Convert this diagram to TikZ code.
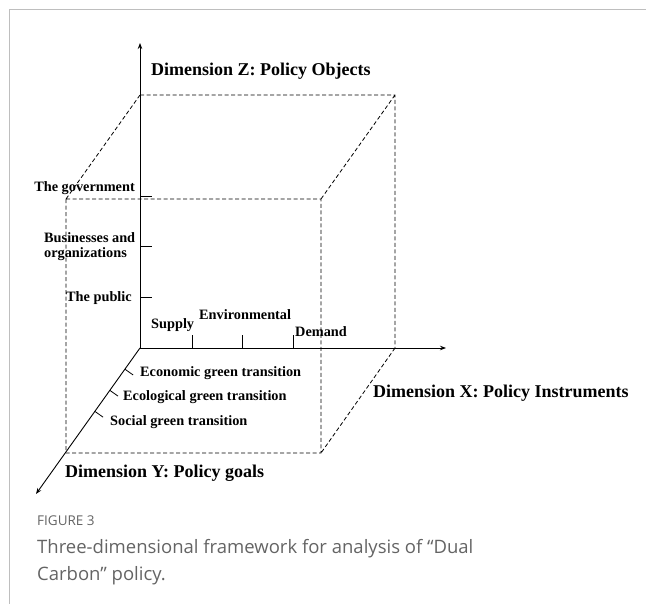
\documentclass[tikz,border=0pt]{standalone}
\usepackage{fontspec}
\setmainfont{Liberation Serif}
\newfontfamily\capfont{Open Sans}
\usetikzlibrary{calc,arrows.meta}
\definecolor{capgray}{RGB}{100,100,100}
\definecolor{framegray}{RGB}{190,190,190}
\tikzset{
  axis/.style={line width=0.9pt,-{Stealth[length=6pt,width=4.5pt]}},
  cubeline/.style={line width=0.8pt,dash pattern=on 4pt off 2.5pt},
  tickline/.style={line width=0.8pt},
  dimlabel/.style={font=\fontsize{18}{20}\selectfont\bfseries,inner sep=0pt},
  itemlabel/.style={font=\fontsize{14.3}{16}\selectfont\bfseries,inner sep=0pt,align=left}
}

\begin{document}
\begin{tikzpicture}[x=1pt,y=-1pt]
  \useasboundingbox (0,0) rectangle (646,604);
  \draw[framegray,line width=1pt] (9,604) -- (9,10) -- (646,10);

  % axes
  \coordinate (O) at (140,348);
  \coordinate (ztip) at (140,43);
  \coordinate (xtip) at (446,348);
  \coordinate (ytip) at (36,494);

  % cube corners
  \coordinate (b_tl) at (140,95);
  \coordinate (b_tr) at (395,95);
  \coordinate (b_br) at (395,348);
  \coordinate (f_tl) at (66,199);
  \coordinate (f_tr) at (321,199);
  \coordinate (f_bl) at (66,453);
  \coordinate (f_br) at (321,453);

  \path[cubeline,draw]
    (b_tl) -- (b_tr) -- (b_br)
    (b_tl) -- (f_tl)
    (b_tr) -- (f_tr)
    (b_br) -- (f_br)
    (f_tl) -- (f_tr) -- (f_br) -- (f_bl) -- cycle;

  \draw[axis] (O) -- (ztip);
  \draw[axis] (O) -- (xtip);
  \draw[axis] (O) -- (ytip);

  % ticks
  \coordinate (z_gov) at (140,196);
  \coordinate (z_bus) at (140,246);
  \coordinate (z_pub) at (140,297);
  \coordinate (x_sup) at (192,348);
  \coordinate (x_env) at (242,348);
  \coordinate (x_dem) at (293,348);
  \coordinate (y_eco) at ($(O)!0.145!(ytip)$);
  \coordinate (y_ecl) at ($(O)!0.29!(ytip)$);
  \coordinate (y_soc) at ($(O)!0.434!(ytip)$);
  \foreach \t in {z_gov,z_bus,z_pub}
    \draw[tickline] (\t) -- ++(12,0);
  \foreach \t in {x_sup,x_env,x_dem}
    \draw[tickline] (\t) -- ++(0,-13);
  \foreach \t in {y_eco,y_ecl,y_soc}
    \draw[tickline] (\t) -- ++(8.2,5.8);

  % labels
  \node[dimlabel,anchor=base west] (dimz) at (151,76) {Dimension Z: Policy Objects};
  \node[dimlabel,anchor=base west] (dimx) at (373,398) {Dimension X: Policy Instruments};
  \node[dimlabel,anchor=base west] (dimy) at (65,477) {Dimension Y: Policy goals};

  \node[itemlabel,anchor=base east] (gov) at (135,192) {The government};
  \node[itemlabel,anchor=base west] (bus) at (44,243) {Businesses and};
  \node[itemlabel,anchor=base west] (org) at (44,258) {organizations};
  \node[itemlabel,anchor=base west] (pub) at (66,302) {The public};

  \node[itemlabel,anchor=base west] (sup) at (151,329) {Supply};
  \node[itemlabel,anchor=base west] (env) at (199,320) {Environmental};
  \node[itemlabel,anchor=base west] (dem) at (295,337) {Demand};

  \node[itemlabel,anchor=base west] (eco) at (140,377) {Economic green transition};
  \node[itemlabel,anchor=base west] (ecl) at (123,401) {Ecological green transition};
  \node[itemlabel,anchor=base west] (soc) at (110,425) {Social green transition};

  % caption
  \node[anchor=base west,inner sep=0pt,text=capgray,font=\capfont\fontsize{13.5}{15}\selectfont] (fig) at (37,525) {FIGURE 3};
  \node[anchor=base west,inner sep=0pt,text=capgray,font=\capfont\fontsize{18.5}{27}\selectfont] (cap1) at (37,553)
    {Three-dimensional framework for analysis of “Dual};
  \node[anchor=base west,inner sep=0pt,text=capgray,font=\capfont\fontsize{18.5}{27}\selectfont] (cap2) at (37,580)
    {Carbon” policy.};
\end{tikzpicture}
\end{document}
